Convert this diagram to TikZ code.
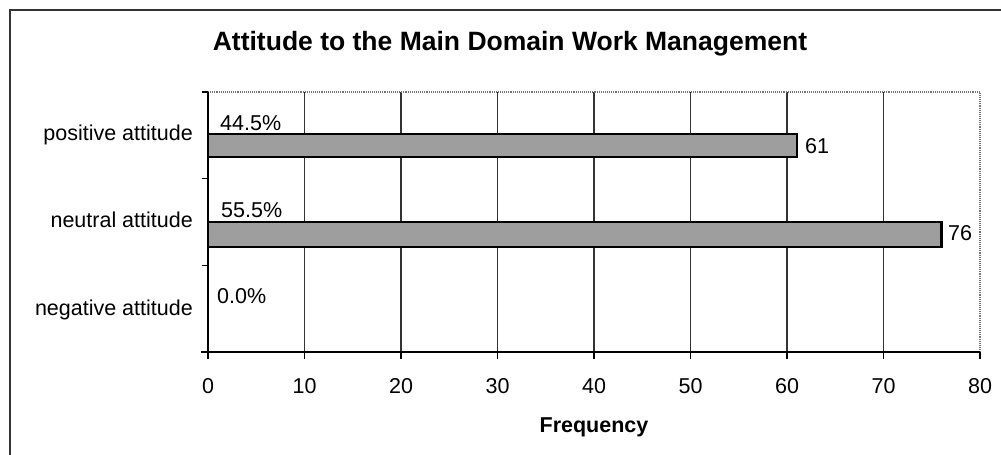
\documentclass[tikz,border=0pt]{standalone}
\usepackage{fontspec}
\setmainfont{Liberation Sans}
\begin{document}
\begin{tikzpicture}[x=1pt,y=-1pt,
  lbl/.style={inner sep=0pt,font=\fontsize{21.5}{24}\selectfont},
  boldlbl/.style={inner sep=0pt,font=\fontsize{21.5}{24}\selectfont\bfseries},
  titlelbl/.style={inner sep=0pt,font=\fontsize{26.5}{30}\selectfont\bfseries},
  gridline/.style={draw=black!80,line width=1.2pt},
  barbox/.style={draw=black,line width=2.2pt,fill=black!38},
  frameline/.style={draw=black!80,line width=1.3pt},
  plotedge/.style={draw=black!55,line width=1.1pt,densely dotted}]
\useasboundingbox (0,0) rectangle (1001,455);
% outer frame (top and left edges)
\draw[frameline] (10,455) -- (10,10) -- (1001,10);
% title
\node[titlelbl,anchor=base] (title) at (510,50) {Attitude to the Main Domain Work Management};
% vertical grid lines every 10 units
\foreach \v in {1,...,7} {
  \draw[gridline] ({208+\v*96.5},92) -- ({208+\v*96.5},352);
}
% plot area top and right edges
\draw[plotedge] (208,92) -- (980,92) -- (980,352);
% axes
\draw[draw=black,line width=1.3pt] (208,92) -- (208,352);
\draw[draw=black,line width=1.6pt] (201,352) -- (980,352);
% category ticks on the left axis
\foreach \yy in {92,178.7,265.3,352} {
  \draw[draw=black,line width=1.1pt] (202,\yy) -- (208,\yy);
}
% value ticks and labels on the bottom axis
\foreach \v in {0,...,8} {
  \draw[draw=black,line width=1.1pt] ({208+\v*96.5},352) -- ({208+\v*96.5},359);
  \node[lbl,anchor=base] (t\v) at ({208+\v*96.5},393) {\number\numexpr\v*10\relax};
}
% bars
\draw[barbox] (208,134) rectangle (796.6,157);
\draw[barbox] (208,222) rectangle (941.4,247);
% category labels
\node[lbl,anchor=base east] (cpos) at (193,140) {positive attitude};
\node[lbl,anchor=base east] (cneu) at (193,227) {neutral attitude};
\node[lbl,anchor=base east] (cneg) at (193,315) {negative attitude};
% percentage labels
\node[lbl,anchor=base west] (ppos) at (220,130) {44.5\%};
\node[lbl,anchor=base west] (pneu) at (221,217) {55.5\%};
\node[lbl,anchor=base west] (pneg) at (217,303) {0.0\%};
% value labels
\node[lbl,anchor=base west] (vpos) at (805,153) {61};
\node[lbl,anchor=base west] (vneu) at (948,240) {76};
% axis title
\node[boldlbl,anchor=base] (xtitle) at (594,432) {Frequency};
\end{tikzpicture}
\end{document}
